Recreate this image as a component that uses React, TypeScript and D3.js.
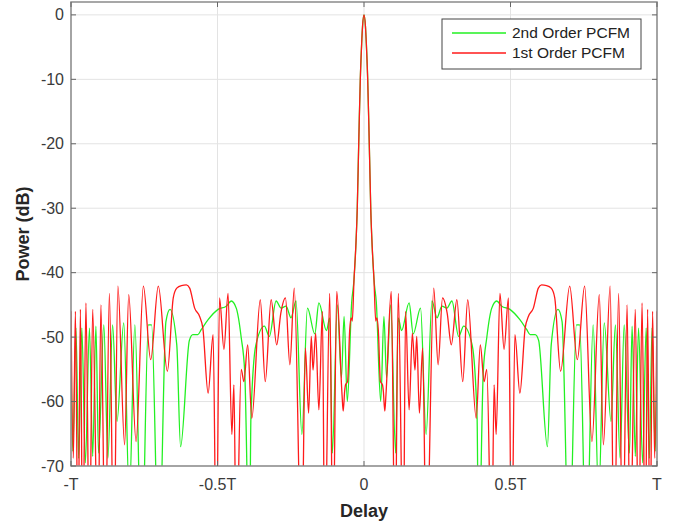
import React, { useEffect, useRef } from 'react';
import * as d3 from 'd3';

// delay in units of T, power in dB (right half; the autocorrelation is symmetric)
const redDelay = [0, 0.005, 0.008, 0.0126, 0.016, 0.019, 0.023, 0.028, 0.034, 0.040, 0.044, 0.049, 0.056, 0.063, 0.066, 0.071, 0.075,
  0.093, 0.106, 0.117, 0.134, 0.142, 0.154, 0.165, 0.174, 0.180, 0.189, 0.200, 0.213, 0.238, 0.253, 0.268, 0.284, 0.298,
  0.317, 0.337, 0.354, 0.383, 0.397, 0.410, 0.419, 0.436, 0.444, 0.451, 0.464, 0.478, 0.493, 0.504, 0.515, 0.532, 0.550,
  0.561, 0.578, 0.595, 0.606, 0.623, 0.639, 0.651, 0.671, 0.702, 0.728, 0.753, 0.778, 0.803, 0.817, 0.840, 0.854, 0.869,
  0.883, 0.898, 0.908, 0.926, 0.937, 0.949, 0.960, 0.968, 0.976, 0.985, 0.992, 1.0];
const redPower = [0, -1.8, -4.5, -10, -16, -22, -30, -36, -41, -47.5, -47.0, -49.0, -56.9, -57.4, -58.4, -61.5, -58.9,
  -42.9, -85, -43.2, -85, -46.0, -61.3, -49.4, -55.1, -49.9, -61.8, -51.7, -85, -42.4, -54.3, -43.9, -46.3, -51.2,
  -44.2, -56.9, -44.2, -62.6, -51.2, -56.9, -55.0, -85, -57.4, -65.1, -43.2, -51.9, -43.9, -85, -49.6, -58.7, -48.6,
  -46.8, -45.5, -42.4, -41.9, -42.0, -42.4, -43.9, -55.3, -42.1, -53.5, -42.1, -66.2, -43.4, -66.7, -42.1, -85, -43.2,
  -85, -45.0, -85, -45.7, -85, -44.7, -85, -45.7, -85, -46.0, -68.8, -46.0];

const greenDelay = [0, 0.005, 0.008, 0.0126, 0.016, 0.019, 0.023, 0.028, 0.034, 0.042, 0.057, 0.068, 0.077, 0.091, 0.108,
  0.117, 0.128, 0.154, 0.168, 0.193, 0.212, 0.232, 0.249, 0.266, 0.283, 0.300, 0.323, 0.340, 0.369, 0.386, 0.391, 0.407,
  0.419, 0.436, 0.453, 0.470, 0.498, 0.532, 0.555, 0.567, 0.584, 0.596, 0.626, 0.639, 0.662, 0.676, 0.700, 0.725, 0.736,
  0.759, 0.782, 0.801, 0.820, 0.843, 0.858, 0.874, 0.888, 0.906, 0.915, 0.926, 0.937, 0.951, 0.963, 0.974, 0.983, 0.994, 1.0];
const greenPower = [0, -1.8, -4.5, -10, -16, -22, -30, -36, -41, -44.6, -60.0, -46.8, -56.3, -45.0, -68.0,
  -47.0, -49.0, -44.7, -49.5, -45.5, -65.1, -44.4, -47.0, -45.2, -45.5, -44.4, -49.9, -48.3, -51.2, -62.6, -85, -55.5,
  -50.1, -45.5, -44.4, -45.2, -45.7, -47.3, -48.8, -49.6, -49.6, -50.5, -67.0, -51.2, -45.7, -47.6, -85, -48.1, -48.1,
  -85, -48.1, -75, -47.8, -63.1, -48.1, -68.8, -48.1, -68, -48.3, -68.5, -48.6, -69.5, -48.6, -68.8, -48.6, -67.7, -55];

const yTicks = [0, -10, -20, -30, -40, -50, -60, -70];
const xTicks = [-1, -0.5, 0, 0.5, 1];
const xTickLabels = ['-T', '-0.5T', '0', '0.5T', 'T'];
const seriesNames = ['2nd Order PCFM', '1st Order PCFM'];
const seriesColors = ['#22f022', '#ff1a1a'];

// mirror the right half around zero delay
const mirror = (delay, power) => {
  const pts = [];
  for (let i = delay.length - 1; i > 0; i--) pts.push([-delay[i], power[i]]);
  for (let i = 0; i < delay.length; i++) pts.push([delay[i], power[i]]);
  return pts;
};

const App = () => {
  const svgRef = useRef(null);

  useEffect(() => {
    const svg = d3.select(svgRef.current);
    svg.selectAll('*').remove();
    const font = '"Liberation Sans", Arial, Helvetica, sans-serif';

    const left = 71, right = 657, top = 2, bottom = 466;
    const x = d3.scaleLinear().domain([-1, 1]).range([left, right]);
    const y = d3.scaleLinear().domain([-70, 2]).range([bottom, top]);

    svg.append('rect').attr('x', left).attr('y', top).attr('width', right - left).attr('height', bottom - top)
      .attr('fill', '#fff');

    // grid
    svg.append('g').selectAll('line').data(yTicks).enter().append('line')
      .attr('x1', left).attr('x2', right).attr('y1', d => y(d)).attr('y2', d => y(d))
      .attr('stroke', '#e3e3e3').attr('stroke-width', 1);
    svg.append('g').selectAll('line').data(xTicks).enter().append('line')
      .attr('y1', top).attr('y2', bottom).attr('x1', d => x(d)).attr('x2', d => x(d))
      .attr('stroke', '#e3e3e3').attr('stroke-width', 1);

    // lines
    svg.append('clipPath').attr('id', 'plotclip').append('rect')
      .attr('x', left).attr('y', top).attr('width', right - left).attr('height', bottom - top);
    const line = d3.line().x(d => x(d[0])).y(d => y(d[1])).curve(d3.curveMonotoneX);
    const series = [mirror(greenDelay, greenPower), mirror(redDelay, redPower)];
    const g = svg.append('g').attr('clip-path', 'url(#plotclip)');
    series.forEach((s, i) => {
      g.append('path').datum(s).attr('d', line).attr('fill', 'none')
        .attr('stroke', seriesColors[i]).attr('stroke-width', 1.3);
    });

    // box and ticks
    svg.append('rect').attr('x', left).attr('y', top).attr('width', right - left).attr('height', bottom - top)
      .attr('fill', 'none').attr('stroke', '#8a8a8a').attr('stroke-width', 1.5);
    const tk = svg.append('g').attr('stroke', '#666').attr('stroke-width', 1);
    yTicks.forEach(t => {
      tk.append('line').attr('x1', left).attr('x2', left + 5).attr('y1', y(t)).attr('y2', y(t));
      tk.append('line').attr('x1', right).attr('x2', right - 5).attr('y1', y(t)).attr('y2', y(t));
    });
    xTicks.forEach(t => {
      tk.append('line').attr('x1', x(t)).attr('x2', x(t)).attr('y1', bottom).attr('y2', bottom - 5);
      tk.append('line').attr('x1', x(t)).attr('x2', x(t)).attr('y1', top).attr('y2', top + 5);
    });

    // tick labels
    svg.append('g').selectAll('text').data(yTicks).enter().append('text')
      .attr('x', left - 7).attr('y', d => y(d)).attr('dy', '0.35em').attr('text-anchor', 'end')
      .attr('font-family', font).attr('font-size', 16).attr('fill', '#3a3a3a').text(d => d);
    svg.append('g').selectAll('text').data(xTicks).enter().append('text')
      .attr('x', d => x(d)).attr('y', 490).attr('text-anchor', 'middle')
      .attr('font-family', font).attr('font-size', 16).attr('fill', '#3a3a3a').text((d, i) => xTickLabels[i]);

    // axis titles
    svg.append('text').attr('x', (left + right) / 2).attr('y', 517).attr('text-anchor', 'middle')
      .attr('font-family', font).attr('font-size', 18).attr('font-weight', 'bold').attr('fill', '#262626').text('Delay');
    svg.append('text').attr('transform', `translate(29,${(top + bottom) / 2}) rotate(-90)`).attr('text-anchor', 'middle')
      .attr('font-family', font).attr('font-size', 18).attr('font-weight', 'bold').attr('fill', '#262626').text('Power (dB)');

    // legend
    const lg = svg.append('g').attr('transform', 'translate(442,19)');
    lg.append('rect').attr('width', 199).attr('height', 50).attr('fill', '#fff').attr('stroke', '#444').attr('stroke-width', 1);
    seriesNames.forEach((n, i) => {
      const yy = 14 + i * 20;
      lg.append('line').attr('x1', 10).attr('x2', 64).attr('y1', yy).attr('y2', yy)
        .attr('stroke', seriesColors[i]).attr('stroke-width', 1.3);
      lg.append('text').attr('x', 70).attr('y', yy).attr('dy', '0.35em').attr('font-family', font)
        .attr('font-size', 15.5).attr('fill', '#222').text(n);
    });
  }, []);

  return (
    <svg ref={svgRef} width={681} height={525} style={{ position: 'absolute', left: 0, top: 0 }}></svg>
  );
};

export default App;
